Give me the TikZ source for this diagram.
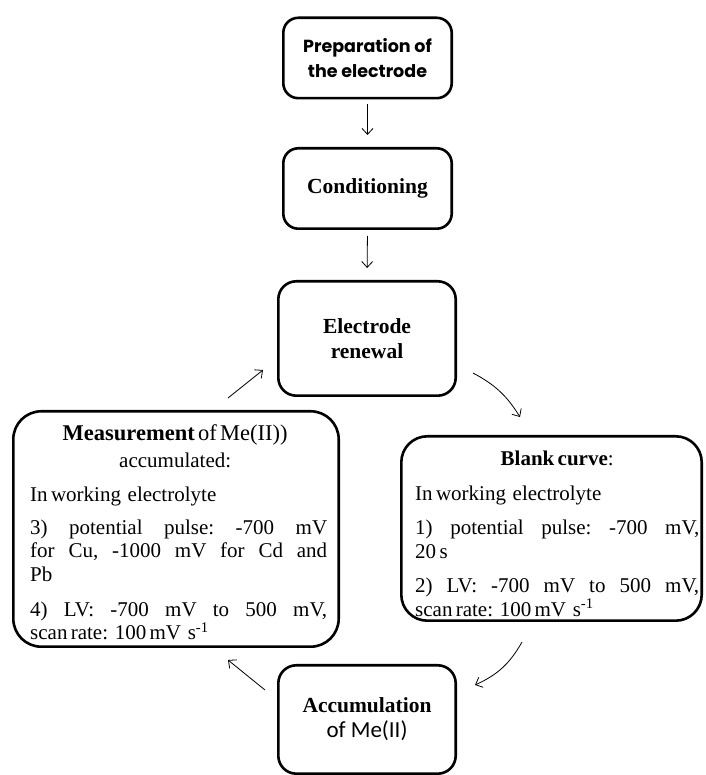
\documentclass[tikz,border=0pt]{standalone}
\usepackage{fontspec}
\setmainfont{Liberation Serif}
\newfontfamily\prepfont{Poppins}
\newfontfamily\carlfont{Carlito}
\usetikzlibrary{arrows.meta}
\newlength{\jw}
\newcommand{\bodyset}{\fontsize{21}{23.5}\selectfont\frenchspacing\setlength{\parskip}{0pt}\setlength{\parindent}{0pt}\tolerance=10000\hbadness=10000\relax}
\newcommand{\jline}[1]{\noindent\hbox to \jw{\spaceskip=0.25em plus 2em minus 0.05em\relax #1}\par}
\begin{document}
\begin{tikzpicture}[x=1pt,y=1pt,
  box/.style={draw, line width=2.6pt, rounded corners=15pt, inner sep=0pt},
  bigbox/.style={box, rounded corners=28pt},
  ttl/.style={font=\fontsize{21.5}{25}\selectfont\bfseries, align=center},
  body/.style={inner sep=0pt, anchor=base west},
  arr/.style={line width=0.8pt, -{Straight Barb[length=6pt,width=11pt]}}]
\useasboundingbox (0,0) rectangle (705,775);

\node[box, minimum width=168.4pt, minimum height=80.4pt, align=center,
      font=\prepfont\bfseries\fontsize{17.5}{25}\selectfont] (prep) at (367.5,717) {Preparation of\\the electrode};
\node[box, ttl, minimum width=168.4pt, minimum height=80.4pt] (cond) at (367.5,586.5) {Conditioning};
\node[box, ttl, rounded corners=18pt, minimum width=177.4pt, minimum height=114.4pt] (renew) at (367,436.5) {Electrode\\renewal};
\node[bigbox, minimum width=325.4pt, minimum height=235.4pt] (meas) at (176,246) {};
\node[bigbox, rounded corners=26pt, minimum width=300.4pt, minimum height=184.4pt] (blank) at (551.5,246.5) {};
\node[box, ttl, rounded corners=18pt, minimum width=177.4pt, minimum height=108.4pt] (accum) at (367,55.5)
  {Accumulation\\{\carlfont\mdseries\fontsize{23}{24}\selectfont of Me(II)}};

\node[body, text width=297pt] (meastext) at (30,334) {\bodyset\setlength{\jw}{297pt}%
{\centering\hspace*{-7pt}{\fontsize{22.5}{23.5}\selectfont\textbf{Measurement} of Me(II))}\\[3.5pt]\hspace*{-7pt}accumulated:\par}
\vspace{10pt}
In working\ \ electrolyte\par
\vspace{9.5pt}
\jline{3) potential pulse: -700 mV}
\jline{for Cu, -1000 mV for Cd and}
Pb\par
\vspace{11.5pt}
\jline{4) LV: -700 mV to 500 mV,}
scan rate:\ \ 100 mV\ \ s\textsuperscript{-1}\par};

\node[body, text width=284pt] (blanktext) at (415,309) {\bodyset\setlength{\jw}{284pt}%
{\centering\textbf{Blank curve}:\par}
\vspace{11pt}
In working\ \ electrolyte\par
\vspace{11pt}
\jline{1) potential pulse: -700 mV,}
20 s\par
\vspace{11pt}
\jline{2) LV: -700 mV to 500 mV,}
scan rate:\ \ 100 mV\ \ s\textsuperscript{-1}\par};

\draw[arr, shorten <=5pt, shorten >=12pt] (prep.south) -- (cond.north);
\draw[arr, shorten <=6pt, shorten >=12pt] (cond.south) -- (renew.north);

\coordinate (lt1) at (228,377);
\coordinate (lt2) at (263,405);
\coordinate (rt1) at (473,402);
\coordinate (rt2) at (520,358);
\coordinate (rb1) at (522,133);
\coordinate (rb2) at (475,90);
\coordinate (lb1) at (265,85);
\coordinate (lb2) at (228,115);
\draw[arr] (lt1) -- (lt2);
\draw[arr] (rt1) to[bend left=15] (rt2);
\draw[arr] (rb1) to[bend left=18] (rb2);
\draw[arr] (lb1) -- (lb2);
\end{tikzpicture}
\end{document}
